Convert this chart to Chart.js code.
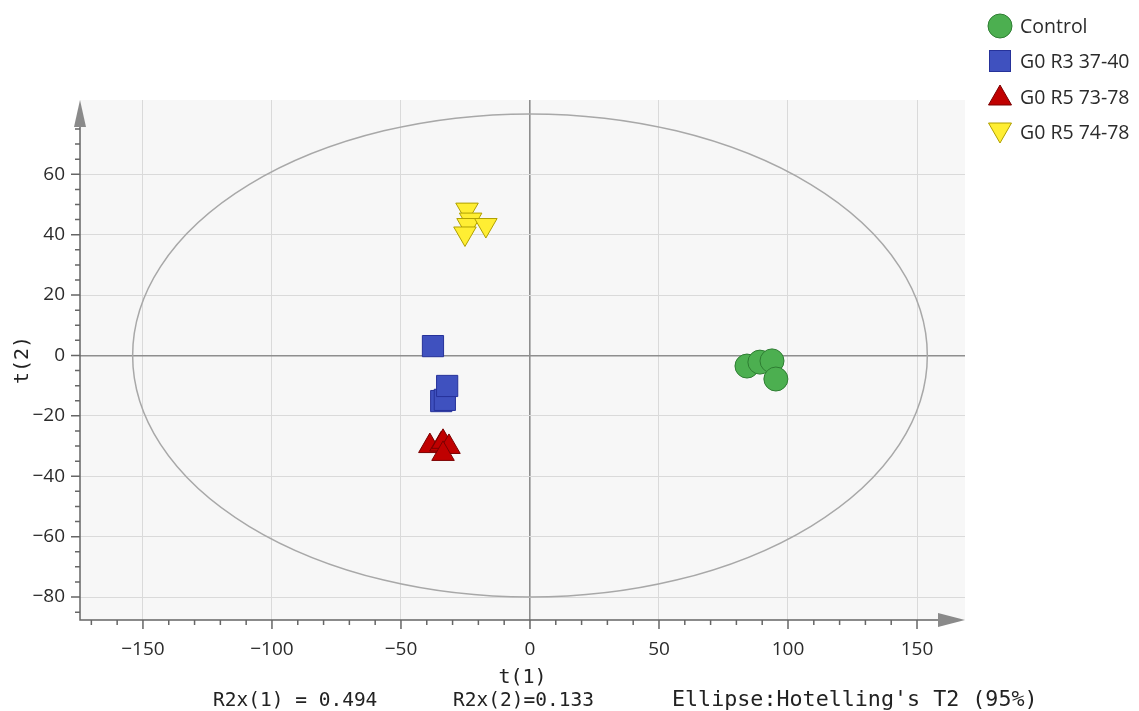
<!DOCTYPE html>
<html>
<head>
<meta charset="utf-8">
<script src="https://cdn.jsdelivr.net/npm/chart.js@4.4.1/dist/chart.umd.min.js"></script>
<style>
  body { margin: 0; background: #fff; }
  #wrap { position: relative; width: 1139px; height: 711px; }
  .legend { position: absolute; left: 986px; top: 8px; font: 19.5px "Open Sans", sans-serif; color: #2b2b2b; }
  .legend div { display: flex; align-items: center; height: 35.3px; }
  .legend svg { width: 28px; height: 28px; margin-right: 6px; }
  .note { position: absolute; font-family: "DejaVu Sans Mono", monospace; color: #222; white-space: pre; line-height: 24px; }
</style>
</head>
<body>
<div id="wrap">
  <canvas id="chart" width="1139" height="711"></canvas>
  <div class="legend" id="legend"></div>
  <div class="note" style="left:213px; top:688px; font-size:19.5px;">R2x(1) = 0.494</div>
  <div class="note" style="left:453px; top:688px; font-size:19.5px;">R2x(2)=0.133</div>
  <div class="note" style="left:672px; top:687px; font-size:21.7px;">Ellipse:Hotelling's T2 (95%)</div>
</div>
<script>
// scores
const controlX = [84.1, 89.1, 93.8, 95.3];
const controlY = [-3.5, -2.2, -1.8, -7.8];
const r3X = [-37.6, -34.4, -33.0, -32.1];
const r3Y = [3.1, -15.1, -14.7, -10.1];
const r573X = [-38.8, -34.5, -33.7, -31.4, -33.7];
const r573Y = [-30.0, -29.5, -28.6, -30.3, -32.6];
const r574X = [-24.4, -23.0, -24.0, -17.1, -25.2];
const r574Y = [48.3, 45.0, 43.2, 43.2, 40.4];

const xTickLabels = [-150, -100, -50, 0, 50, 100, 150];
const yTickLabels = [-80, -60, -40, -20, 0, 20, 40, 60];
const xMin = -174.4, xMax = 168.6;
const yMin = -87.6, yMax = 84.6;

// Hotelling T2 ellipse semi-axes
const ellipseA = 154;
const ellipseB = 80;

const toPoints = (xs, ys) => xs.map((x, i) => ({ x, y: ys[i] }));
const fmt = v => String(v).replace('-', '\u2212');

const series = [
  { label: 'Control', data: toPoints(controlX, controlY), pointStyle: 'circle', pointRadius: 12, backgroundColor: '#4caf50', borderColor: '#2e7d32' },
  { label: 'G0 R3 37-40', data: toPoints(r3X, r3Y), pointStyle: 'rect', pointRadius: 15, backgroundColor: '#3f51bf', borderColor: '#26329a' },
  { label: 'G0 R5 73-78', data: toPoints(r573X, r573Y), pointStyle: 'triangle', pointRadius: 13, backgroundColor: '#c00000', borderColor: '#7a0000' },
  { label: 'G0 R5 74-78', data: toPoints(r574X, r574Y), pointStyle: 'triangle', rotation: 180, pointRadius: 13, backgroundColor: '#ffee33', borderColor: '#b0a000' },
];

const plotDecor = {
  id: 'plotDecor',
  beforeDraw(chart) {
    const { ctx, chartArea: a } = chart;
    ctx.save();
    ctx.fillStyle = '#f7f7f7';
    ctx.fillRect(a.left, a.top, a.right - a.left, a.bottom - a.top);
    ctx.restore();
  },
  beforeDatasetsDraw(chart) {
    const { ctx, scales: { x, y } } = chart;
    const cx = x.getPixelForValue(0), cy = y.getPixelForValue(0);
    const rx = x.getPixelForValue(ellipseA) - cx;
    const ry = cy - y.getPixelForValue(ellipseB);
    ctx.save();
    ctx.strokeStyle = '#a8a8a8';
    ctx.lineWidth = 1.5;
    ctx.beginPath();
    ctx.ellipse(cx, cy, rx, ry, 0, 0, Math.PI * 2);
    ctx.stroke();
    ctx.restore();
  },
  afterDraw(chart) {
    const { ctx, chartArea: a, scales: { x, y } } = chart;
    ctx.save();
    ctx.strokeStyle = '#666';
    ctx.lineWidth = 1.5;
    ctx.beginPath();
    ctx.moveTo(a.left, a.top + 20);
    ctx.lineTo(a.left, a.bottom);
    ctx.lineTo(a.right - 20, a.bottom);
    ctx.stroke();
    // tick marks
    ctx.beginPath();
    x.ticks.forEach(t => {
      const px = x.getPixelForValue(t.value);
      if (px > a.right - 28 || px < a.left + 2) return;
      const len = xTickLabels.includes(t.value) ? 9 : 5;
      ctx.moveTo(px, a.bottom);
      ctx.lineTo(px, a.bottom + len);
    });
    y.ticks.forEach(t => {
      const py = y.getPixelForValue(t.value);
      if (py < a.top + 28 || py > a.bottom - 2) return;
      const len = yTickLabels.includes(t.value) ? 9 : 5;
      ctx.moveTo(a.left, py);
      ctx.lineTo(a.left - len, py);
    });
    ctx.stroke();
    // arrows
    ctx.fillStyle = '#8a8a8a';
    ctx.beginPath();
    ctx.moveTo(a.right - 27, a.bottom - 7);
    ctx.lineTo(a.right, a.bottom);
    ctx.lineTo(a.right - 27, a.bottom + 7);
    ctx.closePath();
    ctx.fill();
    ctx.beginPath();
    ctx.moveTo(a.left - 6, a.top + 27);
    ctx.lineTo(a.left, a.top);
    ctx.lineTo(a.left + 6, a.top + 27);
    ctx.closePath();
    ctx.fill();
    ctx.restore();
  }
};

const gridColor = labels => c => {
  if (!c.tick) return 'rgba(0,0,0,0)';
  if (c.tick.value === 0) return '#8e8e8e';
  return labels.includes(c.tick.value) ? '#dadada' : 'rgba(0,0,0,0)';
};
const gridWidth = c => (c.tick && c.tick.value === 0 ? 1.6 : 1);
const tickFont = { family: 'Open Sans', size: 19 };
const titleFont = { family: 'DejaVu Sans Mono', size: 20 };

new Chart(document.getElementById('chart'), {
  type: 'scatter',
  data: {
    datasets: series.map(s => ({ ...s, borderWidth: 1, pointHoverRadius: s.pointRadius }))
  },
  options: {
    responsive: false,
    animation: false,
    devicePixelRatio: 1,
    layout: { padding: { top: 100, right: 174, left: 0, bottom: 0 } },
    plugins: { legend: { display: false }, tooltip: { enabled: false } },
    scales: {
      x: {
        type: 'linear', min: xMin, max: xMax,
        afterFit: s => { s.height = 91; },
        border: { display: false },
        grid: { color: gridColor(xTickLabels), lineWidth: gridWidth, drawTicks: true, tickLength: 9, tickColor: 'rgba(0,0,0,0)' },
        ticks: {
          stepSize: 10, includeBounds: false, autoSkip: false, maxRotation: 0, padding: 9,
          color: '#2b2b2b', font: tickFont,
          callback: v => xTickLabels.includes(v) ? fmt(v) : ''
        },
        title: { display: true, text: 't(1)', color: '#222', font: titleFont, padding: { top: 0, bottom: 21 } }
      },
      y: {
        type: 'linear', min: yMin, max: yMax,
        afterFit: s => { s.width = 80; },
        border: { display: false },
        grid: { color: gridColor(yTickLabels), lineWidth: gridWidth, drawTicks: true, tickLength: 9, tickColor: 'rgba(0,0,0,0)' },
        ticks: {
          stepSize: 5, includeBounds: false, autoSkip: false, padding: 6,
          color: '#2b2b2b', font: tickFont,
          callback: v => yTickLabels.includes(v) ? fmt(v) : ''
        },
        title: { display: true, text: 't(2)', color: '#222', font: titleFont, padding: { top: 11, bottom: 0 } }
      }
    }
  },
  plugins: [plotDecor]
});

// legend built from the same dataset styles
const shapes = {
  circle: (f, b) => `<circle cx="14" cy="14" r="12" fill="${f}" stroke="${b}"/>`,
  rect: (f, b) => `<rect x="3.5" y="3.5" width="21" height="21" fill="${f}" stroke="${b}"/>`,
  triangle: (f, b, rot) => rot
    ? `<polygon points="2.5,5 25.5,5 14,25" fill="${f}" stroke="${b}"/>`
    : `<polygon points="14,3 25.5,23 2.5,23" fill="${f}" stroke="${b}"/>`
};
document.getElementById('legend').innerHTML = series.map(s =>
  `<div><svg viewBox="0 0 28 28">${shapes[s.pointStyle](s.backgroundColor, s.borderColor, s.rotation)}</svg>${s.label}</div>`
).join('');
</script>
</body>
</html>
